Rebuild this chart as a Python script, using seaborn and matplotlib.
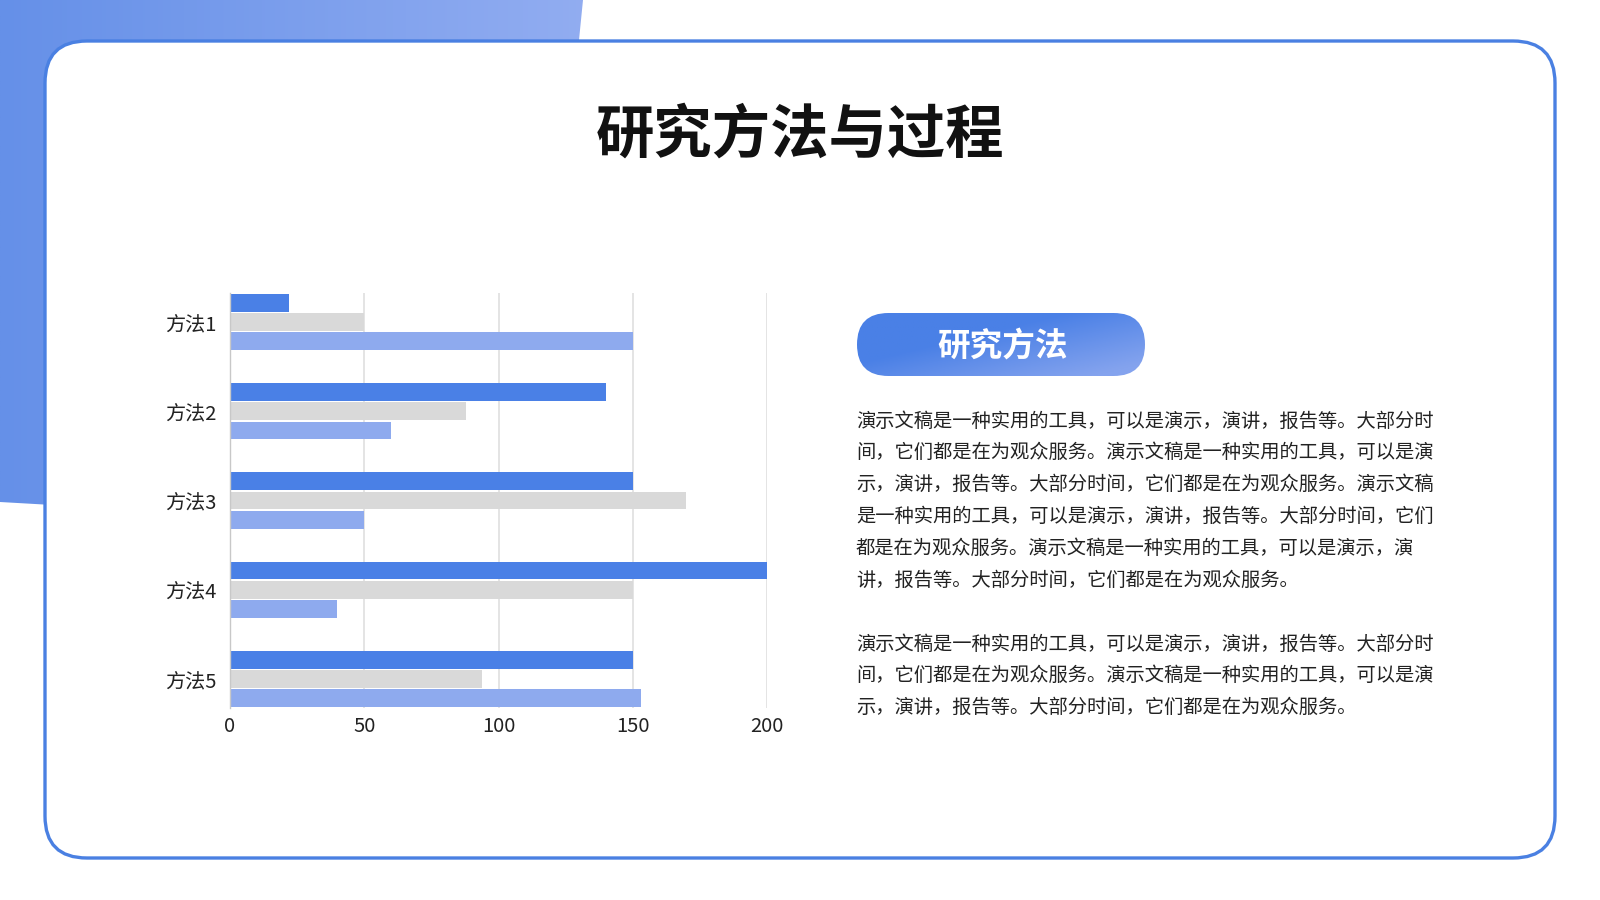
import numpy as np
import pandas as pd
import matplotlib.pyplot as plt
import seaborn as sns
from matplotlib.patches import FancyBboxPatch, Polygon
from matplotlib.colors import LinearSegmentedColormap

# chart data
methods = ['方法1', '方法2', '方法3', '方法4', '方法5']
series_names = ['系列1', '系列2', '系列3']
series1 = [22, 140, 150, 200, 150]
series2 = [50, 88, 170, 150, 94]
series3 = [150, 60, 50, 40, 153]
x_ticks = [0, 50, 100, 150, 200]

title = '研究方法与过程'
pill_label = '研究方法'
para1 = [
    '演示文稿是一种实用的工具，可以是演示，演讲，报告等。大部分时',
    '间，它们都是在为观众服务。演示文稿是一种实用的工具，可以是演',
    '示，演讲，报告等。大部分时间，它们都是在为观众服务。演示文稿',
    '是一种实用的工具，可以是演示，演讲，报告等。大部分时间，它们',
    '都是在为观众服务。演示文稿是一种实用的工具，可以是演示，演',
    '讲，报告等。大部分时间，它们都是在为观众服务。',
]
para2 = [
    '演示文稿是一种实用的工具，可以是演示，演讲，报告等。大部分时',
    '间，它们都是在为观众服务。演示文稿是一种实用的工具，可以是演',
    '示，演讲，报告等。大部分时间，它们都是在为观众服务。',
]

sns.set_style('white')
plt.rcParams['font.family'] = ['Noto Sans CJK SC', 'DejaVu Sans']

fig = plt.figure(figsize=(16, 9), dpi=100)
fig.patch.set_facecolor('white')

# full-figure layer in pixel coords for the slide decorations
bg = fig.add_axes([0, 0, 1, 1], zorder=0)
bg.axis('off')

# blue block behind top-left corner
blob = Polygon([(0, 0), (583, 0), (576, 70), (70, 70), (70, 506), (0, 502)],
               closed=True, transform=bg.transData, facecolor='none', edgecolor='none')
bg.add_patch(blob)
blob_cmap = LinearSegmentedColormap.from_list('blob', ['#6590e8', '#92adf1'])
grad = np.tile(np.linspace(0, 1, 256), (16, 1))
im = bg.imshow(grad, extent=(0, 590, 520, 0), cmap=blob_cmap, aspect='auto', zorder=1)
im.set_clip_path(blob)

# white rounded frame
frame = FancyBboxPatch((45, 41), 1510, 817, boxstyle='round,pad=0,rounding_size=42',
                       facecolor='white', edgecolor='#4a80e2', linewidth=2.4, zorder=2)
bg.add_patch(frame)

bg.text(800, 136, title, fontsize=42, fontweight='heavy', ha='center', va='center',
        color='#111111', zorder=5)

# gradient pill with heading
pill = FancyBboxPatch((857, 313), 288, 63, boxstyle='round,pad=0,rounding_size=31.5',
                      facecolor='none', edgecolor='none', transform=bg.transData, zorder=3)
bg.add_patch(pill)
gx, gy = np.meshgrid(np.linspace(0, 1, 200), np.linspace(0, 1, 50))
pill_grad = np.clip((gx - 0.45) * 1.0 + (gy - 0.3) * 0.9, 0, 1)
pill_cmap = LinearSegmentedColormap.from_list('pill', ['#4a80e6', '#84a3ee'])
pim = bg.imshow(pill_grad, extent=(857, 1145, 313, 376), origin='lower', cmap=pill_cmap,
                aspect='auto', zorder=3)
pim.set_clip_path(pill)
bg.text(1003, 346, pill_label, color='white', fontsize=23.5, fontweight='bold',
        ha='center', va='center', zorder=4)

# body text
for i, line in enumerate(para1):
    bg.text(856, 421 + i * 31.8, line, fontsize=13.9, ha='left', va='center',
            color='#222222', zorder=4)
for i, line in enumerate(para2):
    bg.text(856, 644 + i * 31.8, line, fontsize=13.9, ha='left', va='center',
            color='#222222', zorder=4)

bg.set_xlim(0, 1600)
bg.set_ylim(900, 0)

# bar chart
ax = fig.add_axes([230 / 1600, (900 - 708) / 900, 537 / 1600, 415 / 900], zorder=3)
ax.patch.set_alpha(0)

df = pd.DataFrame({
    'method': methods * 3,
    'series': np.repeat(series_names, len(methods)),
    'value': series1 + series2 + series3,
})
sns.barplot(data=df, x='value', y='method', hue='series', orient='h',
            palette=['#4a80e6', '#d9d9d9', '#8eaaee'], saturation=1,
            width=0.65, gap=0.08, linewidth=0, legend=False, ax=ax)

ax.set_xlim(0, 200)
ax.set_ylim(4.325, -0.325)
ax.set_xticks(x_ticks)
ax.xaxis.grid(True, color='#e2e2e2', linewidth=1.3)
ax.set_axisbelow(True)
for side in ['top', 'right', 'bottom']:
    ax.spines[side].set_visible(False)
ax.spines['left'].set_color('#c8c8c8')
ax.spines['left'].set_linewidth(1.0)
ax.tick_params(axis='both', length=0, labelsize=14.5, labelcolor='#222222')
ax.tick_params(axis='x', pad=6)
ax.tick_params(axis='y', pad=9.5)
ax.set_xlabel('')
ax.set_ylabel('')

fig.savefig('out.png', dpi=100)
